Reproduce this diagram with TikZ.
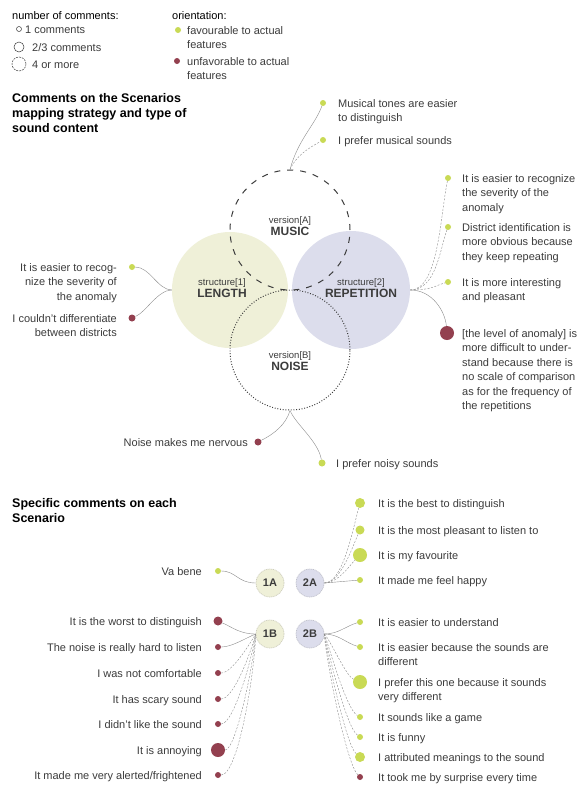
\documentclass[tikz,border=0pt]{standalone}
\usepackage{fontspec}
\setmainfont{Liberation Sans}
\usetikzlibrary{positioning}
\definecolor{favgreen}{HTML}{C9DA55}
\definecolor{unfavred}{HTML}{93404F}
\definecolor{lengthfill}{HTML}{EFF0D8}
\definecolor{repfill}{HTML}{DCDDEC}
\definecolor{txtgray}{HTML}{3C3C3C}
\definecolor{linkgray}{HTML}{8C8C8C}

\tikzset{
  fav/.style={circle,fill=favgreen,inner sep=0pt,minimum size=#1},
  unfav/.style={circle,fill=unfavred,inner sep=0pt,minimum size=#1},
  cmt/.style={font=\fontsize{11}{14.5}\selectfont,text=txtgray,align=left,anchor=base west,inner sep=0pt},
  cmtl/.style={cmt,align=right,anchor=base east},
  cmtm/.style={cmt,anchor=north west},
  cmtml/.style={cmtl,anchor=north east},
  link/.style={draw=linkgray,line width=.4pt},
  linkd/.style={link,dash pattern=on 2pt off 1.5pt},
  heading/.style={font=\fontsize{12.5}{15}\selectfont\bfseries,align=left,anchor=north west,inner sep=0pt},
  vlabel/.style={align=center,inner sep=0pt,text=txtgray,font=\fontsize{12}{12.5}\selectfont},
  scen/.style={circle,minimum size=28,inner sep=0pt,font=\fontsize{11}{11}\selectfont\bfseries,text=txtgray,fill=#1,draw=#1!70!gray,dash pattern=on 1pt off .8pt,line width=.7pt},
  legcirc/.style={circle,draw=txtgray,line width=.5pt,inner sep=0pt,minimum size=#1}
}

\begin{document}
\begin{tikzpicture}[x=1pt,y=-1pt]
\useasboundingbox[fill=white] (0,0) rectangle (581,785);

% legend
\node[cmt,text=black] (lgnum) at (12,19) {number of comments:};
\node[legcirc=5] (lg1) at (19,29) {};
\node[legcirc=10] (lg2) at (19,47) {};
\node[legcirc=14,dash pattern=on 2pt off 1pt] (lg3) at (19,64) {};
\node[right=6pt of lg1.center,yshift=-4pt,cmt] {1 comments};
\node[right=13pt of lg2.center,yshift=-4pt,cmt] {2/3 comments};
\node[right=13pt of lg3.center,yshift=-4pt,cmt] {4 or more};
\node[cmt,text=black] (lgor) at (172,19) {orientation:};
\node[fav=6] (lgf) at (178,30) {};
\node[unfav=6] (lgu) at (177,61) {};
\node[right=9pt of lgf.center,yshift=4pt,cmtm] {favourable to actual\\features};
\node[right=10pt of lgu.center,yshift=4pt,cmtm] {unfavorable to actual\\features};

% first part
\node[heading] (head1) at (12,93) {Comments on the Scenarios\\mapping strategy and type of\\sound content};

\node[circle,fill=lengthfill,minimum size=116,inner sep=0pt] (length) at (230,290) {};
\node[circle,fill=repfill,minimum size=118,inner sep=0pt] (repetition) at (351,290) {};
\node[circle,draw=txtgray,line width=1pt,dash pattern=on 6pt off 7pt,minimum size=120,inner sep=0pt] (music) at (290,230) {};
\node[circle,draw=txtgray,line width=1pt,dash pattern=on .9pt off 1.8pt,minimum size=120,inner sep=0pt] (noise) at (290,350) {};

\node[vlabel] (lblength) at (222,288) {{\fontsize{9.5}{10}\selectfont structure[1]}\\\textbf{LENGTH}};
\node[vlabel] (lbrep) at (361,288) {{\fontsize{9.5}{10}\selectfont structure[2]}\\\textbf{REPETITION}};
\node[vlabel] (lbmusic) at (290,226) {{\fontsize{9.5}{10}\selectfont version[A]}\\\textbf{MUSIC}};
\node[vlabel] (lbnoise) at (290,361) {{\fontsize{9.5}{10}\selectfont version[B]}\\\textbf{NOISE}};

% length
\node[fav=6] (lf1) at (132,267) {};
\node[unfav=7] (lu1) at (132,318) {};
\node[left=15pt of lf1.center,yshift=4pt,cmtml] {It is easier to recog-\\nize the severity of\\the anomaly};
\node[left=15pt of lu1.center,yshift=4pt,cmtml] {I couldn't differentiate\\between districts};
\draw[link] (lf1) .. controls +(18,0) and +(-14,0) .. (length.west);
\draw[link] (lu1) .. controls +(14,-6) and +(-14,0) .. (length.west);

% music
\node[fav=6] (mf1) at (323,103) {};
\node[fav=6] (mf2) at (323,140) {};
\node[right=15pt of mf1.center,yshift=4pt,cmtm] {Musical tones are easier\\to distinguish};
\node[right=15pt of mf2.center,yshift=-4pt,cmt] {I prefer musical sounds};
\draw[link] (music.north) .. controls +(8,-30) and +(-8,22) .. (mf1);
\draw[linkd] (music.north) .. controls +(6,-14) and +(-14,8) .. (mf2);

% repetition
\node[fav=6] (rf1) at (448,178) {};
\node[fav=6] (rf2) at (448,227) {};
\node[fav=6] (rf3) at (448,282) {};
\node[unfav=14] (ru1) at (447,333) {};
\node[right=14pt of rf1.center,yshift=4pt,cmtm] {It is easier to recognize\\the severity of the\\anomaly};
\node[right=14pt of rf2.center,yshift=4pt,cmtm] {District identification is\\more obvious because\\they keep repeating};
\node[right=14pt of rf3.center,yshift=4pt,cmtm] {It is more interesting\\and pleasant};
\node[right=15pt of ru1.center,yshift=4pt,cmtm] {[the level of anomaly] is\\more difficult to under-\\stand because there is\\no scale of comparison\\as for the frequency of\\the repetitions};
\draw[linkd] (repetition.east) .. controls +(28,0) and +(-8,40) .. (rf1);
\draw[linkd] (repetition.east) .. controls +(26,0) and +(-8,22) .. (rf2);
\draw[linkd] (repetition.east) .. controls +(22,0) and +(-14,4) .. (rf3);
\draw[link] (repetition.east) .. controls +(22,0) and +(-2,-22) .. (ru1);

% noise
\node[unfav=7] (nu1) at (258,442) {};
\node[fav=7] (nf1) at (322,463) {};
\node[left=10pt of nu1.center,yshift=-4pt,cmtl] {Noise makes me nervous};
\node[right=14pt of nf1.center,yshift=-4pt,cmt] {I prefer noisy sounds};
\draw[link] (noise.south) .. controls +(-4,14) and +(16,-8) .. (nu1);
\draw[link] (noise.south) .. controls +(6,14) and +(-4,-22) .. (nf1);

% second part
\node[heading] (head2) at (12,498) {Specific comments on each\\Scenario};

\node[scen=lengthfill] (s1a) at (270,583) {1A};
\node[scen=repfill] (s2a) at (310,583) {2A};
\node[scen=lengthfill] (s1b) at (270,634) {1B};
\node[scen=repfill] (s2b) at (310,634) {2B};

% 1A
\node[fav=6] (va) at (218,571) {};
\node[left=16pt of va.center,yshift=-4pt,cmtl] {Va bene};
\draw[link] (va) .. controls +(18,0) and +(-18,0) .. (s1a.west);

% 2A
\node[fav=10] (a1) at (360,503) {};
\node[fav=9] (a2) at (360,530) {};
\node[fav=14] (a3) at (360,555) {};
\node[fav=6] (a4) at (360,580) {};
\node[right=18pt of a1.center,yshift=-4pt,cmt] {It is the best to distinguish};
\node[right=18pt of a2.center,yshift=-4pt,cmt] {It is the most pleasant to listen to};
\node[right=18pt of a3.center,yshift=-4pt,cmt] {It is my favourite};
\node[right=18pt of a4.center,yshift=-4pt,cmt] {It made me feel happy};
\draw[linkd] (s2a.east) .. controls +(18,0) and +(-8,30) .. (a1);
\draw[linkd] (s2a.east) .. controls +(16,0) and +(-8,18) .. (a2);
\draw[linkd] (s2a.east) .. controls +(14,0) and +(-10,10) .. (a3);
\draw[link] (s2a.east) -- (a4);

% 1B
\node[unfav=9] (b1) at (218,621) {};
\node[unfav=6] (b2) at (218,647) {};
\node[unfav=6] (b3) at (218,673) {};
\node[unfav=6] (b4) at (218,699) {};
\node[unfav=6] (b5) at (218,724) {};
\node[unfav=14] (b6) at (218,750) {};
\node[unfav=6] (b7) at (218,775) {};
\node[left=16pt of b1.center,yshift=-4pt,cmtl] {It is the worst to distinguish};
\node[left=16pt of b2.center,yshift=-4pt,cmtl] {The noise is really hard to listen};
\node[left=16pt of b3.center,yshift=-4pt,cmtl] {I was not comfortable};
\node[left=16pt of b4.center,yshift=-4pt,cmtl] {It has scary sound};
\node[left=16pt of b5.center,yshift=-4pt,cmtl] {I didn't like the sound};
\node[left=16pt of b6.center,yshift=-4pt,cmtl] {It is annoying};
\node[left=16pt of b7.center,yshift=-4pt,cmtl] {It made me very alerted/frightened};
\draw[link] (b1) .. controls +(14,6) and +(-16,0) .. (s1b.west);
\draw[link] (b2) .. controls +(14,0) and +(-10,4) .. (s1b.west);
\draw[linkd] (b3) .. controls +(14,0) and +(-6,10) .. (s1b.west);
\draw[linkd] (b4) .. controls +(16,0) and +(-4,16) .. (s1b.west);
\draw[linkd] (b5) .. controls +(16,0) and +(-3,22) .. (s1b.west);
\draw[linkd] (b6) .. controls +(18,0) and +(-2,30) .. (s1b.west);
\draw[linkd] (b7) .. controls +(20,0) and +(-1,40) .. (s1b.west);

% 2B
\node[fav=6] (c1) at (360,622) {};
\node[fav=6] (c2) at (360,647) {};
\node[fav=14] (c3) at (360,682) {};
\node[fav=6] (c4) at (360,717) {};
\node[fav=6] (c5) at (360,737) {};
\node[fav=10] (c6) at (360,757) {};
\node[unfav=6] (c7) at (360,777) {};
\node[right=18pt of c1.center,yshift=-4pt,cmt] {It is easier to understand};
\node[right=18pt of c2.center,yshift=4pt,cmtm] {It is easier because the sounds are\\different};
\node[right=18pt of c3.center,yshift=4pt,cmtm] {I prefer this one because it sounds\\very different};
\node[right=18pt of c4.center,yshift=-4pt,cmt] {It sounds like a game};
\node[right=18pt of c5.center,yshift=-4pt,cmt] {It is funny};
\node[right=18pt of c6.center,yshift=-4pt,cmt] {I attributed meanings to the sound};
\node[right=18pt of c7.center,yshift=-4pt,cmt] {It took me by surprise every time};
\draw[link] (s2b.east) .. controls +(14,0) and +(-14,4) .. (c1);
\draw[link] (s2b.east) .. controls +(14,0) and +(-14,-4) .. (c2);
\draw[linkd] (s2b.east) .. controls +(6,6) and +(-14,-6) .. (c3);
\draw[linkd] (s2b.east) .. controls +(4,10) and +(-14,-8) .. (c4);
\draw[linkd] (s2b.east) .. controls +(3,14) and +(-14,-10) .. (c5);
\draw[linkd] (s2b.east) .. controls +(2,18) and +(-14,-12) .. (c6);
\draw[linkd] (s2b.east) .. controls +(1,22) and +(-14,-14) .. (c7);
\end{tikzpicture}
\end{document}
